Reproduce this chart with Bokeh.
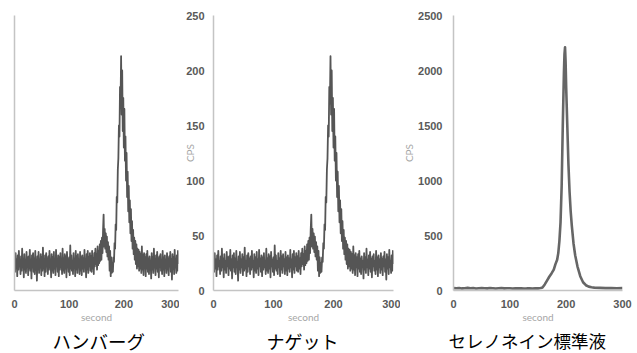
from bokeh.plotting import figure
from bokeh.layouts import row
from bokeh.models import FixedTicker, Title
from bokeh.embed import file_html
from bokeh.resources import INLINE

# ---------------- data ----------------
time_s = list(range(0, 301))  # one reading per second

hamburger_cps = [
    30, 17, 34, 20, 28, 13, 32, 19, 36, 22, 27, 15, 31, 18, 38, 21, 29, 12, 33, 19,
    27, 16, 35, 22, 30, 14, 31, 20, 37, 18, 28, 11, 32, 21, 34, 17, 29, 15, 36, 23,
    26, 9, 31, 19, 35, 16, 28, 21, 33, 14, 30, 18, 39, 20, 27, 13, 32, 17, 34, 22,
    29, 15, 31, 19, 36, 21, 27, 12, 33, 18, 30, 16, 35, 20, 28, 14, 37, 22, 29, 17,
    32, 13, 30, 19, 34, 21, 27, 15, 38, 18, 29, 16, 33, 20, 31, 12, 35, 22, 28, 17,
    30, 14, 41, 20, 32, 18, 27, 15, 34, 21, 29, 13, 36, 19, 31, 16, 33, 22, 28, 15,
    35, 18, 30, 14, 32, 20, 29, 17, 37, 21, 28, 12, 33, 19, 36, 16, 30, 22, 34, 18,
    31, 17, 36, 20, 29, 15, 34, 22, 38, 24, 33, 19, 40, 23, 36, 25, 42, 27, 45, 28,
    48, 34, 55, 69, 40, 56, 38, 52, 35, 49, 31, 44, 28, 40, 18, 36, 13, 30, 16, 25,
    17, 30, 26, 43, 38, 60, 55, 85, 80, 110, 120, 150, 140, 185, 170, 213,
    160, 200, 145, 175, 130, 165, 118, 140, 100, 125, 85, 108, 72, 95, 62, 82, 52, 74, 45, 63,
    38, 55, 33, 48, 28, 45, 24, 42, 20, 38, 22, 37, 18, 35, 20, 33, 16, 40, 19, 32,
    14, 34, 21, 30,
    13, 33, 20, 36, 17, 29, 15, 31, 22, 27, 11, 34, 19, 30, 16, 38, 21, 28, 14, 32,
    20, 35, 17, 29, 12, 31, 22, 33, 18, 27, 15, 36, 19, 30, 13, 32, 21, 28, 16, 34,
    19, 29, 14, 31, 22, 35, 17, 28, 10, 33, 20, 30, 15, 37, 21, 27, 16, 32, 18, 36,
    24,
]

# the nugget trace looks identical to the hamburger trace in the picture
nugget_cps = list(hamburger_cps)

standard_t = [
    0, 5, 10, 15, 20, 25, 30, 35, 40, 45, 50, 55, 60, 65, 70, 75, 80, 85, 90, 95,
    100, 105, 110, 115, 120, 125, 130, 135, 140, 145, 150,
    155, 158, 162, 166, 170, 174, 178, 181, 184, 186, 188, 190, 192, 194, 196,
    197, 198, 199, 200, 202, 204, 206, 208, 210, 213, 216, 220, 225, 230, 235,
    240, 245, 250, 260, 270, 280, 290, 300,
]
standard_cps = [
    22, 20, 23, 19, 21, 24, 20, 22, 18, 21, 23, 20, 19, 22, 21, 18, 20, 22, 19, 21,
    20, 18, 21, 19, 20, 18, 19, 21, 18, 20, 19,
    22, 28, 55, 90, 125, 155, 190, 240, 280, 340, 450, 620, 950, 1500, 1980,
    2150, 2210, 2080, 1850, 1500, 1150, 900, 720, 590, 430, 320, 220, 130, 75, 48,
    35, 30, 26, 24, 22, 23, 21, 22,
]

x_ticks = [0, 100, 200, 300]
y_ticks_small = [0, 50, 100, 150, 200, 250]
y_ticks_large = [0, 500, 1000, 1500, 2000, 2500]

titles = ["ハンバーグ", "ナゲット", "セレノネイン標準液"]
x_label = "second"
y_label = "CPS"

# ---------------- styling ----------------
TICK_FONT = "Liberation Sans"
TICK_COLOR = "#595959"
AXIS_LINE = "#c4c4c4"
LABEL_COLOR = "#a6a6a6"
TRACE = "#555555"
FIG_H = 353


def panel(width, left, right, ymax, yticks, xs, ys, title, lw, color,
          show_y=True, y_label_standoff=3, tick_standoff=11,
          title_offset=0, title_size="18px"):
    p = figure(width=width, height=FIG_H, x_range=(0, 300), y_range=(0, ymax),
               output_backend="svg", toolbar_location=None,
               min_border_left=left, min_border_right=right,
               min_border_top=15, min_border_bottom=60)
    p.outline_line_color = None
    p.grid.visible = False
    p.background_fill_color = "white"
    p.border_fill_color = "white"

    p.line(xs, ys, line_color=color, line_width=lw, line_join="round")

    for ax in (p.xaxis[0], p.yaxis[0]):
        ax.axis_line_color = AXIS_LINE
        ax.axis_line_width = 1.5
        ax.major_tick_line_color = None
        ax.minor_tick_line_color = None
        ax.major_tick_out = 0
        ax.major_tick_in = 0
        ax.minor_tick_out = 0
        ax.major_label_text_font = TICK_FONT
        ax.major_label_text_font_style = "bold"
        ax.major_label_text_font_size = "11px"
        ax.major_label_text_color = TICK_COLOR
        ax.axis_label_text_font = "Lato"
        ax.axis_label_text_font_style = "normal"
        ax.axis_label_text_font_size = "10px"
        ax.axis_label_text_color = LABEL_COLOR

    p.xaxis.ticker = FixedTicker(ticks=x_ticks)
    p.xaxis.major_label_standoff = 9
    p.xaxis.axis_label = x_label
    p.xaxis.axis_label_standoff = 0

    if show_y:
        p.yaxis.ticker = FixedTicker(ticks=yticks)
        p.yaxis.major_label_standoff = tick_standoff
        p.yaxis.axis_label = y_label
        p.yaxis.axis_label_standoff = y_label_standoff
    else:
        p.yaxis.ticker = FixedTicker(ticks=[])
        p.yaxis.major_label_standoff = 0

    p.add_layout(Title(text=title, align="left", text_font="Noto Sans CJK JP",
                       text_font_size=title_size, text_font_style="normal",
                       text_line_height=1.0, text_color="black",
                       standoff=0, offset=title_offset), "below")
    return p


p1 = panel(179, 14, 1, 250, y_ticks_small, time_s, hamburger_cps, titles[0],
           1.8, TRACE, show_y=False, title_offset=38, title_size="18.5px")
p2 = panel(221, 34, 7, 250, y_ticks_small, time_s, nugget_cps, titles[1],
           1.8, TRACE, show_y=True, y_label_standoff=-13, tick_standoff=9,
           title_offset=53)
p3 = panel(237, 53, 15, 2500, y_ticks_large, standard_t, standard_cps, titles[2],
           2.6, "#666666", show_y=True, y_label_standoff=0, title_offset=-5,
           title_size="17.5px")

layout = row(p1, p2, p3, spacing=0)

open("out.html", "w").write(file_html(layout, INLINE))
